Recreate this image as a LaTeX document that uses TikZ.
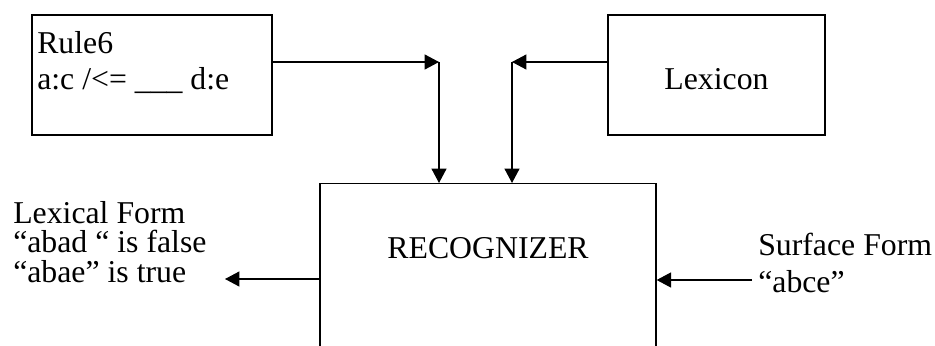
\documentclass[tikz,border=0pt]{standalone}
\usepackage{fontspec}
\setmainfont{Liberation Serif}
\usetikzlibrary{arrows.meta}
\usetikzlibrary{calc}

\begin{document}
\begin{tikzpicture}[scale=1]
    % ================= 样式定义 =================
    \tikzset{
        % 方框:细黑线,无内边距
        box/.style={draw=black, line width=0.9pt, inner sep=0pt},
        % 文字:左对齐,大号衬线体 (多行时 base 取最后一行)
        txt/.style={inner sep=0pt, align=left, font=\fontsize{22.6}{26.2}\selectfont},
        % 箭头:实心三角
        flow/.style={line width=0.9pt, -{Triangle[length=0.36cm, width=0.375cm]}}
    }

    % 画布范围,识别器下端被截断
    \useasboundingbox (0,0) rectangle (23.375,8.625);
    \clip (0,0) rectangle (23.375,8.625);

    % ================= 上方:规则与词典 =================
    % 1. 规则框 (文字靠左上)
    \node[box, minimum width=6cm, minimum height=3cm] (rule) at (3.8,6.75) {};
    \node[txt, anchor=base west] (ruletxt) at (0.925,6.375) {Rule6\\a:c /<= \_\_\_ d:e};

    % 2. 词典框
    \node[box, txt, minimum width=5.425cm, minimum height=3cm, text height=0.75cm, text depth=0pt] (lex) at (17.9125,6.75) {Lexicon};

    % ================= 中间:识别器 =================
    \node[box, anchor=north, minimum width=8.4cm, minimum height=6cm] (rec) at (12.2,4.05) {};
    \node[txt, anchor=base] (rectxt) at (12.2,2.175) {RECOGNIZER};

    % 3. 拐点
    \coordinate (rj) at (10.975,7.075);
    \coordinate (lj) at (12.8,7.075);

    % 4. 规则 -> 识别器, 词典 -> 识别器
    \draw[flow] (rule.east |- rj) -- (rj);
    \draw[flow] (rj) -- (rj |- rec.north);
    \draw[flow] (lex.west |- lj) -- (lj);
    \draw[flow] (lj) -- (lj |- rec.north);

    % ================= 左右:输出与输入 =================
    \node[txt, anchor=base west, font=\fontsize{22.6}{20.9}\selectfont] (lexform) at (0.325,1.575)
        {Lexical Form\\“abad “ is false\\“abae” is true};
    \node[txt, anchor=base west] (surf) at (18.95,1.325) {Surface Form\\“abce”};

    \coordinate (lexout) at (5.625,1.65);
    \coordinate (surfin) at (18.8,1.625);

    % 5. 识别器 -> 词汇形式, 表层形式 -> 识别器
    \draw[flow] (rec.west |- lexout) -- (lexout);
    \draw[flow] (surfin) -- (rec.east |- surfin);
\end{tikzpicture}
\end{document}
